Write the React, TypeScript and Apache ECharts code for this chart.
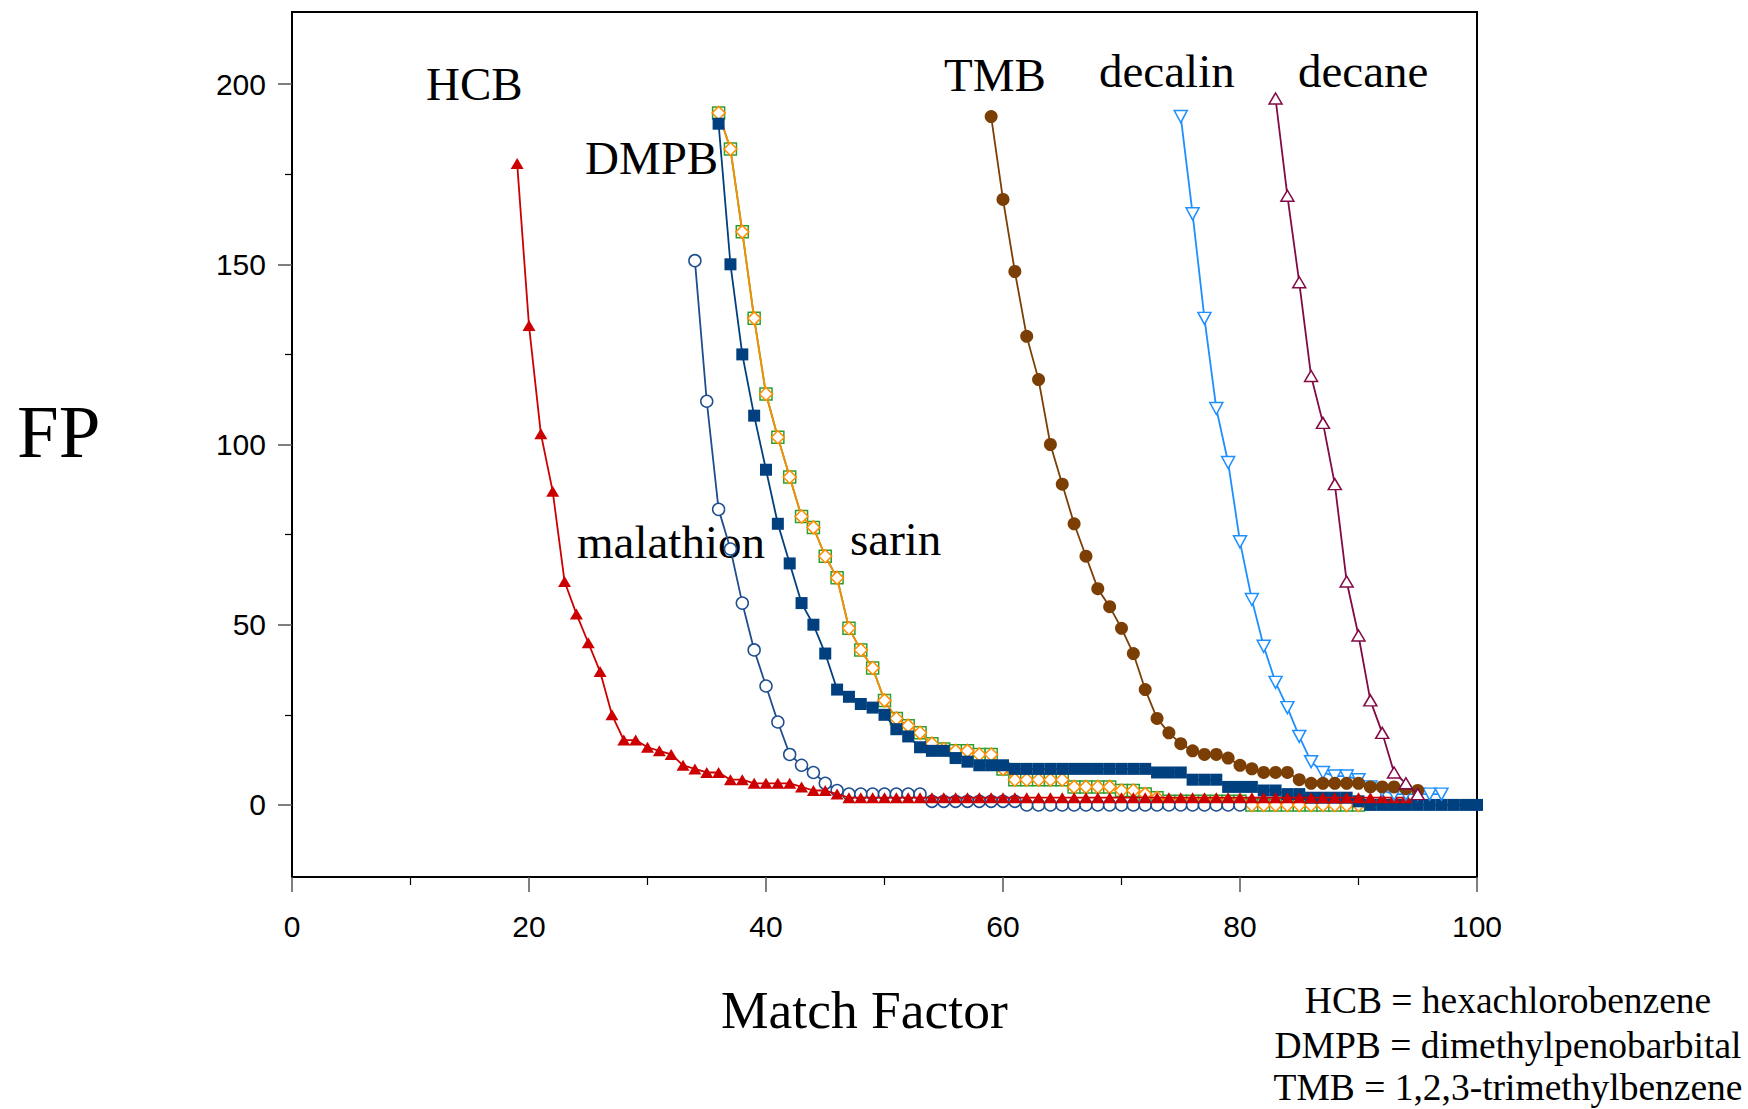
import React, { useEffect, useRef } from "react";
import * as echarts from "echarts";

// Match Factor of the first point of each series, then FP values for consecutive Match Factors
const hcbStart = 19;
const hcbFP = [178, 133, 103, 87, 62, 53, 45, 37, 25, 18, 18, 16, 15, 14, 11, 10, 9, 9, 7, 7, 6, 6, 6, 6, 5, 4, 4, 3,
  2, 2, 2, 2, 2, 2, 2, 2, 2, 2, 2, 2, 2, 2, 2, 2, 2, 2, 2, 2, 2, 2, 2, 2, 2, 2, 2, 2, 2, 2, 2, 2, 2, 2, 2, 2, 2, 2, 2, 2, 2, 2, 2, 2, 2, 2, 2, 2];

const malathionStart = 34;
const malathionFP = [151, 112, 82, 71, 56, 43, 33, 23, 14, 11, 9, 6, 4,
  3, 3, 3, 3, 3, 3, 3,
  1, 1, 1, 1, 1, 1, 1, 1,
  0, 0, 0, 0, 0, 0, 0, 0, 0, 0, 0, 0, 0, 0, 0, 0, 0, 0, 0];

const dmpbStart = 36;
const dmpbFP = [189, 150, 125, 108, 93, 78, 67, 56, 50, 42, 32, 30, 28, 27, 25, 21, 19, 16, 15, 15, 13, 12, 11, 11, 11,
  10, 10, 10, 10, 10, 10, 10, 10, 10, 10, 10, 10,
  9, 9, 9, 7, 7, 7, 5, 5, 5, 4, 4, 3, 3, 2, 2, 2, 2, 1,
  0, 0, 0, 0, 0, 0, 0, 0, 0, 0];

const sarinStart = 36;
const sarinFP = [192, 182, 159, 135, 114, 102, 91, 80, 77, 69, 63, 49, 43, 38, 29, 24, 22, 20, 17, 15.5, 15, 15, 14, 14, 10,
  7, 7, 7, 7, 7, 5, 5, 5, 5, 4, 4, 3, 2,
  1, 1, 1, 1, 1, 1, 1,
  0, 0, 0, 0, 0, 0, 0, 0, 0, 0];

const tmbStart = 59;
const tmbFP = [191, 168, 148, 130, 118, 100, 89, 78, 69, 60, 55, 49, 42, 32, 24, 20, 17, 15, 14, 14, 13, 11, 10, 9, 9, 9,
  7, 6, 6, 6, 6, 6, 5, 5, 5, 4.5, 4];

const decalinStart = 75;
const decalinFP = [191, 164, 135, 110, 95, 73, 57, 44, 34, 27, 19, 12, 9, 8, 8, 7, 5, 4, 3, 3, 3, 3, 3];

const decaneStart = 83;
const decaneFP = [196, 169, 145, 119, 106, 89, 62, 47, 29, 20, 9, 6, 3];

const xTicks = [0, 20, 40, 60, 80, 100];
const yMajorTicks = [0, 50, 100, 150, 200];
const yMinorTicks = [25, 75, 125, 175];

const curveLabels = ["HCB", "DMPB", "TMB", "decalin", "decane", "malathion", "sarin"];
const footnotes = [
  "HCB = hexachlorobenzene",
  "DMPB = dimethylpenobarbital",
  "TMB = 1,2,3-trimethylbenzene",
];

const SERIF = "'Liberation Serif', 'Times New Roman', serif";
const SANS = "'Liberation Sans', Arial, sans-serif";

function pairs(start: number, vals: number[]) {
  return vals.map((v, i) => [start + i, v]);
}

function line(name: string, start: number, vals: number[], o: any) {
  return {
    type: "line",
    name,
    data: pairs(start, vals),
    showSymbol: true,
    showAllSymbol: true,
    symbol: o.symbol,
    symbolSize: o.size,
    symbolRotate: o.rotate || 0,
    z: o.z,
    lineStyle: { color: o.line || o.color, width: o.lw || 1.8 },
    itemStyle: o.open
      ? { color: "#ffffff", borderColor: o.color, borderWidth: 1.5 }
      : { color: o.color, borderColor: o.color, borderWidth: 0 },
    emphasis: { disabled: true },
  };
}

export default function App() {
  const ref = useRef<HTMLDivElement>(null);
  useEffect(() => {
    if (!ref.current) return;
    const chart = echarts.init(ref.current, null, { renderer: "svg", width: 1748, height: 1109 });
    const labelPos: Record<string, [number, number]> = {
      HCB: [426, 84],
      DMPB: [585, 158],
      TMB: [944, 75],
      decalin: [1099, 71],
      decane: [1298, 71],
      malathion: [577, 542],
      sarin: [850, 539],
    };
    const graphics: any[] = curveLabels.map((t) => ({
      type: "text",
      x: labelPos[t][0],
      y: labelPos[t][1],
      style: { text: t, fontSize: 47, fontFamily: SERIF, fill: "#000", align: "left", verticalAlign: "middle" },
    }));
    graphics.push({
      type: "text",
      x: 17,
      y: 431,
      style: { text: "FP", fontSize: 75, fontFamily: SERIF, fill: "#000", align: "left", verticalAlign: "middle" },
    });
    graphics.push({
      type: "text",
      x: 721,
      y: 1010,
      style: { text: "Match Factor", fontSize: 53.5, fontFamily: SERIF, fill: "#000", align: "left", verticalAlign: "middle" },
    });
    footnotes.forEach((t, i) => {
      graphics.push({
        type: "text",
        x: 1508,
        y: [1000, 1045, 1087][i],
        style: { text: t, fontSize: 37.5, fontFamily: SERIF, fill: "#000", align: "center", verticalAlign: "middle" },
      });
    });

    chart.setOption({
      animation: false,
      backgroundColor: "#ffffff",
      grid: { left: 292, top: 12, width: 1185, height: 865, show: true, borderColor: "#000", borderWidth: 2, backgroundColor: "transparent" },
      xAxis: {
        type: "value",
        min: 0,
        max: 100,
        interval: 20,
        axisLine: { show: true, onZero: false, lineStyle: { color: "#000", width: 2 } },
        axisTick: { show: true, length: 15, lineStyle: { color: "#555", width: 1.5 } },
        minorTick: { show: true, splitNumber: 2, length: 8, lineStyle: { color: "#000", width: 1.2 } },
        splitLine: { show: false },
        minorSplitLine: { show: false },
        axisLabel: {
          fontSize: 30, fontFamily: SANS, color: "#000", margin: 34,
          formatter: (v: number) => (xTicks.includes(v) ? String(v) : ""),
        },
      },
      yAxis: [
        {
          type: "value",
          min: -20,
          max: 220,
          axisLine: { show: true, onZero: false, lineStyle: { color: "#000", width: 2 } },
          axisTick: { show: true, length: 14, customValues: yMajorTicks, lineStyle: { color: "#555", width: 1.5 } },
          splitLine: { show: false },
          axisLabel: {
            fontSize: 30, fontFamily: SANS, color: "#000", margin: 26, customValues: yMajorTicks,
            padding: [12, 0, 0, 0],
          },
        },
        {
          type: "value",
          min: -20,
          max: 220,
          position: "left",
          axisLine: { show: false, onZero: false },
          axisTick: { show: true, length: 7, customValues: yMinorTicks, lineStyle: { color: "#000", width: 1.2 } },
          splitLine: { show: false },
          axisLabel: { show: false },
        },
      ],
      graphic: graphics,
      series: [
        line("sarin (squares)", sarinStart, sarinFP, { symbol: "rect", size: 12, color: "#2e9e2e", line: "#2e9e2e", open: true, z: 2 }),
        line("sarin", sarinStart, sarinFP, { symbol: "diamond", size: 13, color: "#ff8c00", open: true, z: 3 }),
        line("malathion", malathionStart, malathionFP, { symbol: "circle", size: 12, color: "#1f4e8f", open: true, z: 4 }),
        line("DMPB", dmpbStart, dmpbFP, { symbol: "rect", size: 12, color: "#00407f", z: 5 }),
        line("HCB", hcbStart, hcbFP, { symbol: "triangle", size: [13, 11], color: "#cc0000", z: 6 }),
        line("decalin", decalinStart, decalinFP, { symbol: "triangle", size: [13, 12], rotate: 180, color: "#1e8fff", open: true, z: 7 }),
        line("TMB", tmbStart, tmbFP, { symbol: "circle", size: 13, color: "#7b3f05", z: 8 }),
        line("decane", decaneStart, decaneFP, { symbol: "triangle", size: [13, 11], color: "#820a46", open: true, z: 9 }),
      ],
    });
    return () => chart.dispose();
  }, []);
  return (
    <div
      ref={ref}
      style={{ position: "fixed", left: 0, top: 0, width: 1748, height: 1109, background: "#fff" }}
    />
  );
}
